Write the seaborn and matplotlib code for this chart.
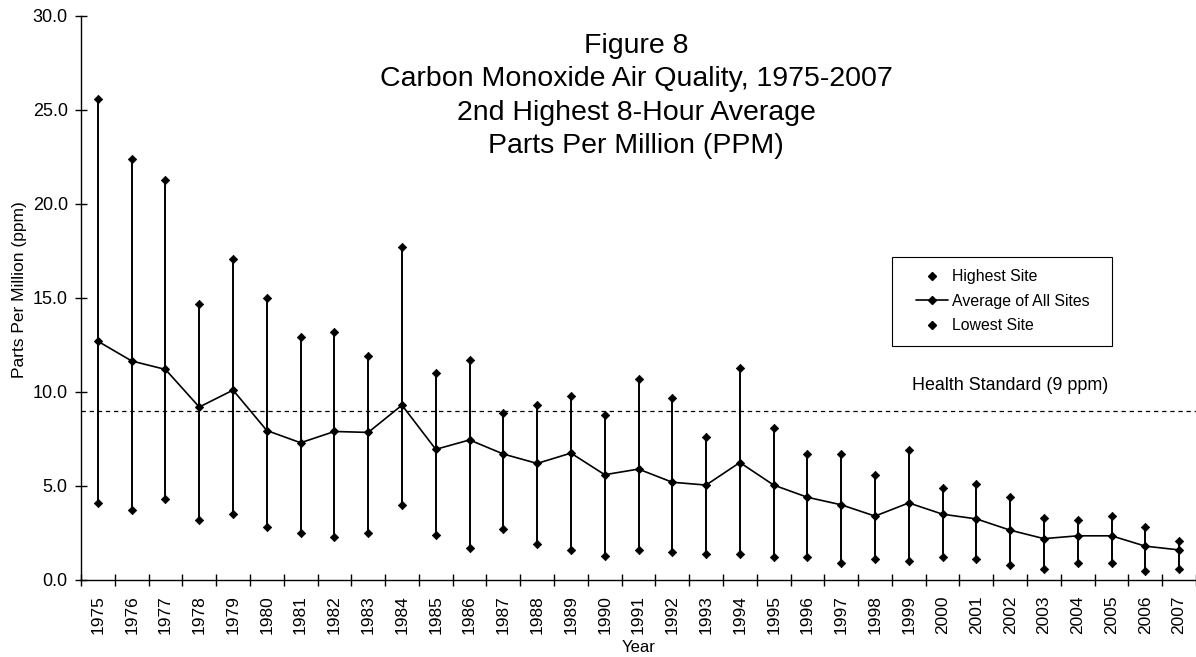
import numpy as np
import pandas as pd
import matplotlib
matplotlib.use("Agg")
import matplotlib.pyplot as plt
from matplotlib.lines import Line2D
from matplotlib.patches import Rectangle
from matplotlib.ticker import FixedLocator, FormatStrFormatter
import seaborn as sns

# ---------------- data ----------------
years = list(range(1975, 2008))
highest_site = [25.6, 22.4, 21.3, 14.7, 17.1, 15.0, 12.9, 13.2, 11.9, 17.7,
                11.0, 11.7, 8.9, 9.3, 9.8, 8.8, 10.7, 9.7, 7.6, 11.3,
                8.1, 6.7, 6.7, 5.6, 6.9, 4.9, 5.1, 4.4, 3.3, 3.2,
                3.4, 2.8, 2.1]
average_all = [12.7, 11.65, 11.2, 9.2, 10.1, 7.95, 7.3, 7.9, 7.85, 9.3,
               6.95, 7.45, 6.7, 6.2, 6.75, 5.6, 5.9, 5.2, 5.05, 6.25,
               5.05, 4.4, 4.0, 3.4, 4.1, 3.5, 3.25, 2.65, 2.2, 2.35,
               2.35, 1.8, 1.6]
lowest_site = [4.1, 3.7, 4.3, 3.2, 3.5, 2.8, 2.5, 2.3, 2.5, 4.0,
               2.4, 1.7, 2.7, 1.9, 1.6, 1.3, 1.6, 1.5, 1.4, 1.4,
               1.2, 1.2, 0.9, 1.1, 1.0, 1.2, 1.1, 0.8, 0.6, 0.9,
               0.9, 0.5, 0.6]
health_standard = 9.0
y_ticks = [0, 5, 10, 15, 20, 25, 30]

title_lines = ["Figure 8",
               "Carbon Monoxide Air Quality, 1975-2007",
               "2nd Highest 8-Hour Average",
               "Parts Per Million (PPM)"]
legend_labels = ["Highest Site", "Average of All Sites", "Lowest Site"]
std_label = "Health Standard (9 ppm)"

df = pd.DataFrame({"Year": years, "High": highest_site,
                   "Avg": average_all, "Low": lowest_site})

# ---------------- style ----------------
sns.set_theme(style="white")
plt.rcParams["font.family"] = ["Liberation Sans", "DejaVu Sans"]
plt.rcParams["text.color"] = "black"
plt.rcParams["axes.labelcolor"] = "black"
plt.rcParams["axes.linewidth"] = 1.0

W, H = 1196, 657
fig = plt.figure(figsize=(W / 100, H / 100), dpi=100)
ax_left, ax_right, ax_top, ax_bot = 81, 1196, 16, 580
aw, ah = ax_right - ax_left, ax_bot - ax_top
ax = fig.add_axes([ax_left / W, 1 - ax_bot / H, aw / W, ah / H])

ms = 4.3
# vertical range lines
ax.vlines(df["Year"], df["Low"], df["High"], colors="black", linewidth=1.4, zorder=2)
# high and low markers
sns.scatterplot(data=df, x="Year", y="High", marker="D", s=ms ** 2,
                color="black", edgecolor="black", linewidth=0.5, ax=ax, zorder=3,
                legend=False)
sns.scatterplot(data=df, x="Year", y="Low", marker="D", s=ms ** 2,
                color="black", edgecolor="black", linewidth=0.5, ax=ax, zorder=3,
                legend=False)
# average line
sns.lineplot(data=df, x="Year", y="Avg", color="black", linewidth=1.2,
             marker="D", markersize=ms, markeredgecolor="black",
             ax=ax, zorder=4, legend=False)

# health standard
ax.axhline(health_standard, color="black", linewidth=0.9,
           linestyle=(0, (3.5, 3)), zorder=1)
ax.text(2002.0, 10.37, std_label, ha="center", va="center", fontsize=12.9)

# axes limits / ticks
ax.set_xlim(years[0] - 0.5, years[-1] + 0.5)
ax.set_ylim(y_ticks[0], y_ticks[-1])
ax.set_yticks(y_ticks)
ax.yaxis.set_major_formatter(FormatStrFormatter("%.1f"))
ax.set_xticks(years)
ax.set_xticklabels([str(y) for y in years], rotation=90)
ax.xaxis.set_minor_locator(FixedLocator(np.arange(years[0] - 0.5, years[-1] + 1.0, 1.0)))
ax.tick_params(axis="x", which="major", length=0, pad=11, labelsize=12.5, colors="black")
ax.tick_params(axis="x", which="minor", length=8, width=1.0, direction="inout",
               bottom=True, color="black")
ax.tick_params(axis="y", which="major", length=8, width=1.0, direction="inout",
               left=True, pad=5.5, labelsize=13, colors="black")

for side in ["top", "right"]:
    ax.spines[side].set_visible(False)
for side in ["left", "bottom"]:
    ax.spines[side].set_color("black")
    ax.spines[side].set_linewidth(1.0)

ax.set_ylabel("Parts Per Million (ppm)", fontsize=12.5, color="black")
ax.set_xlabel("Year", fontsize=12, color="black")
ax.yaxis.set_label_coords((27 - ax_left) / aw, (ax_bot - 290) / ah)
ax.xaxis.set_label_coords(0.5, (ax_bot - 640) / ah)

# title inside the plot area
fig.text(636 / W, 1 - 96 / H, "\n".join(title_lines), ha="center", va="center",
         fontsize=20.5, linespacing=1.37, multialignment="center", color="black")

# legend
handles = [
    Line2D([], [], linestyle="none", marker="D", markersize=ms, color="black"),
    Line2D([], [], linestyle="-", linewidth=1.2, marker="D", markersize=ms, color="black"),
    Line2D([], [], linestyle="none", marker="D", markersize=ms, color="black"),
]
lx0, lx1, ly0, ly1 = 892, 1112, 257, 346
leg = ax.legend(handles, legend_labels, loc="center left",
                bbox_to_anchor=((916 - ax_left) / aw, (ax_bot - (ly0 + ly1) / 2) / ah),
                frameon=False, fontsize=11.4, handlelength=2.0, handletextpad=0.3,
                labelspacing=0.6, borderpad=0.0, borderaxespad=0.0)
frame = Rectangle(((lx0 - ax_left) / aw, (ax_bot - ly1) / ah),
                  (lx1 - lx0) / aw, (ly1 - ly0) / ah,
                  transform=ax.transAxes, fill=False, edgecolor="black",
                  linewidth=0.8, zorder=5)
ax.add_patch(frame)

fig.savefig("out.png", dpi=100)
